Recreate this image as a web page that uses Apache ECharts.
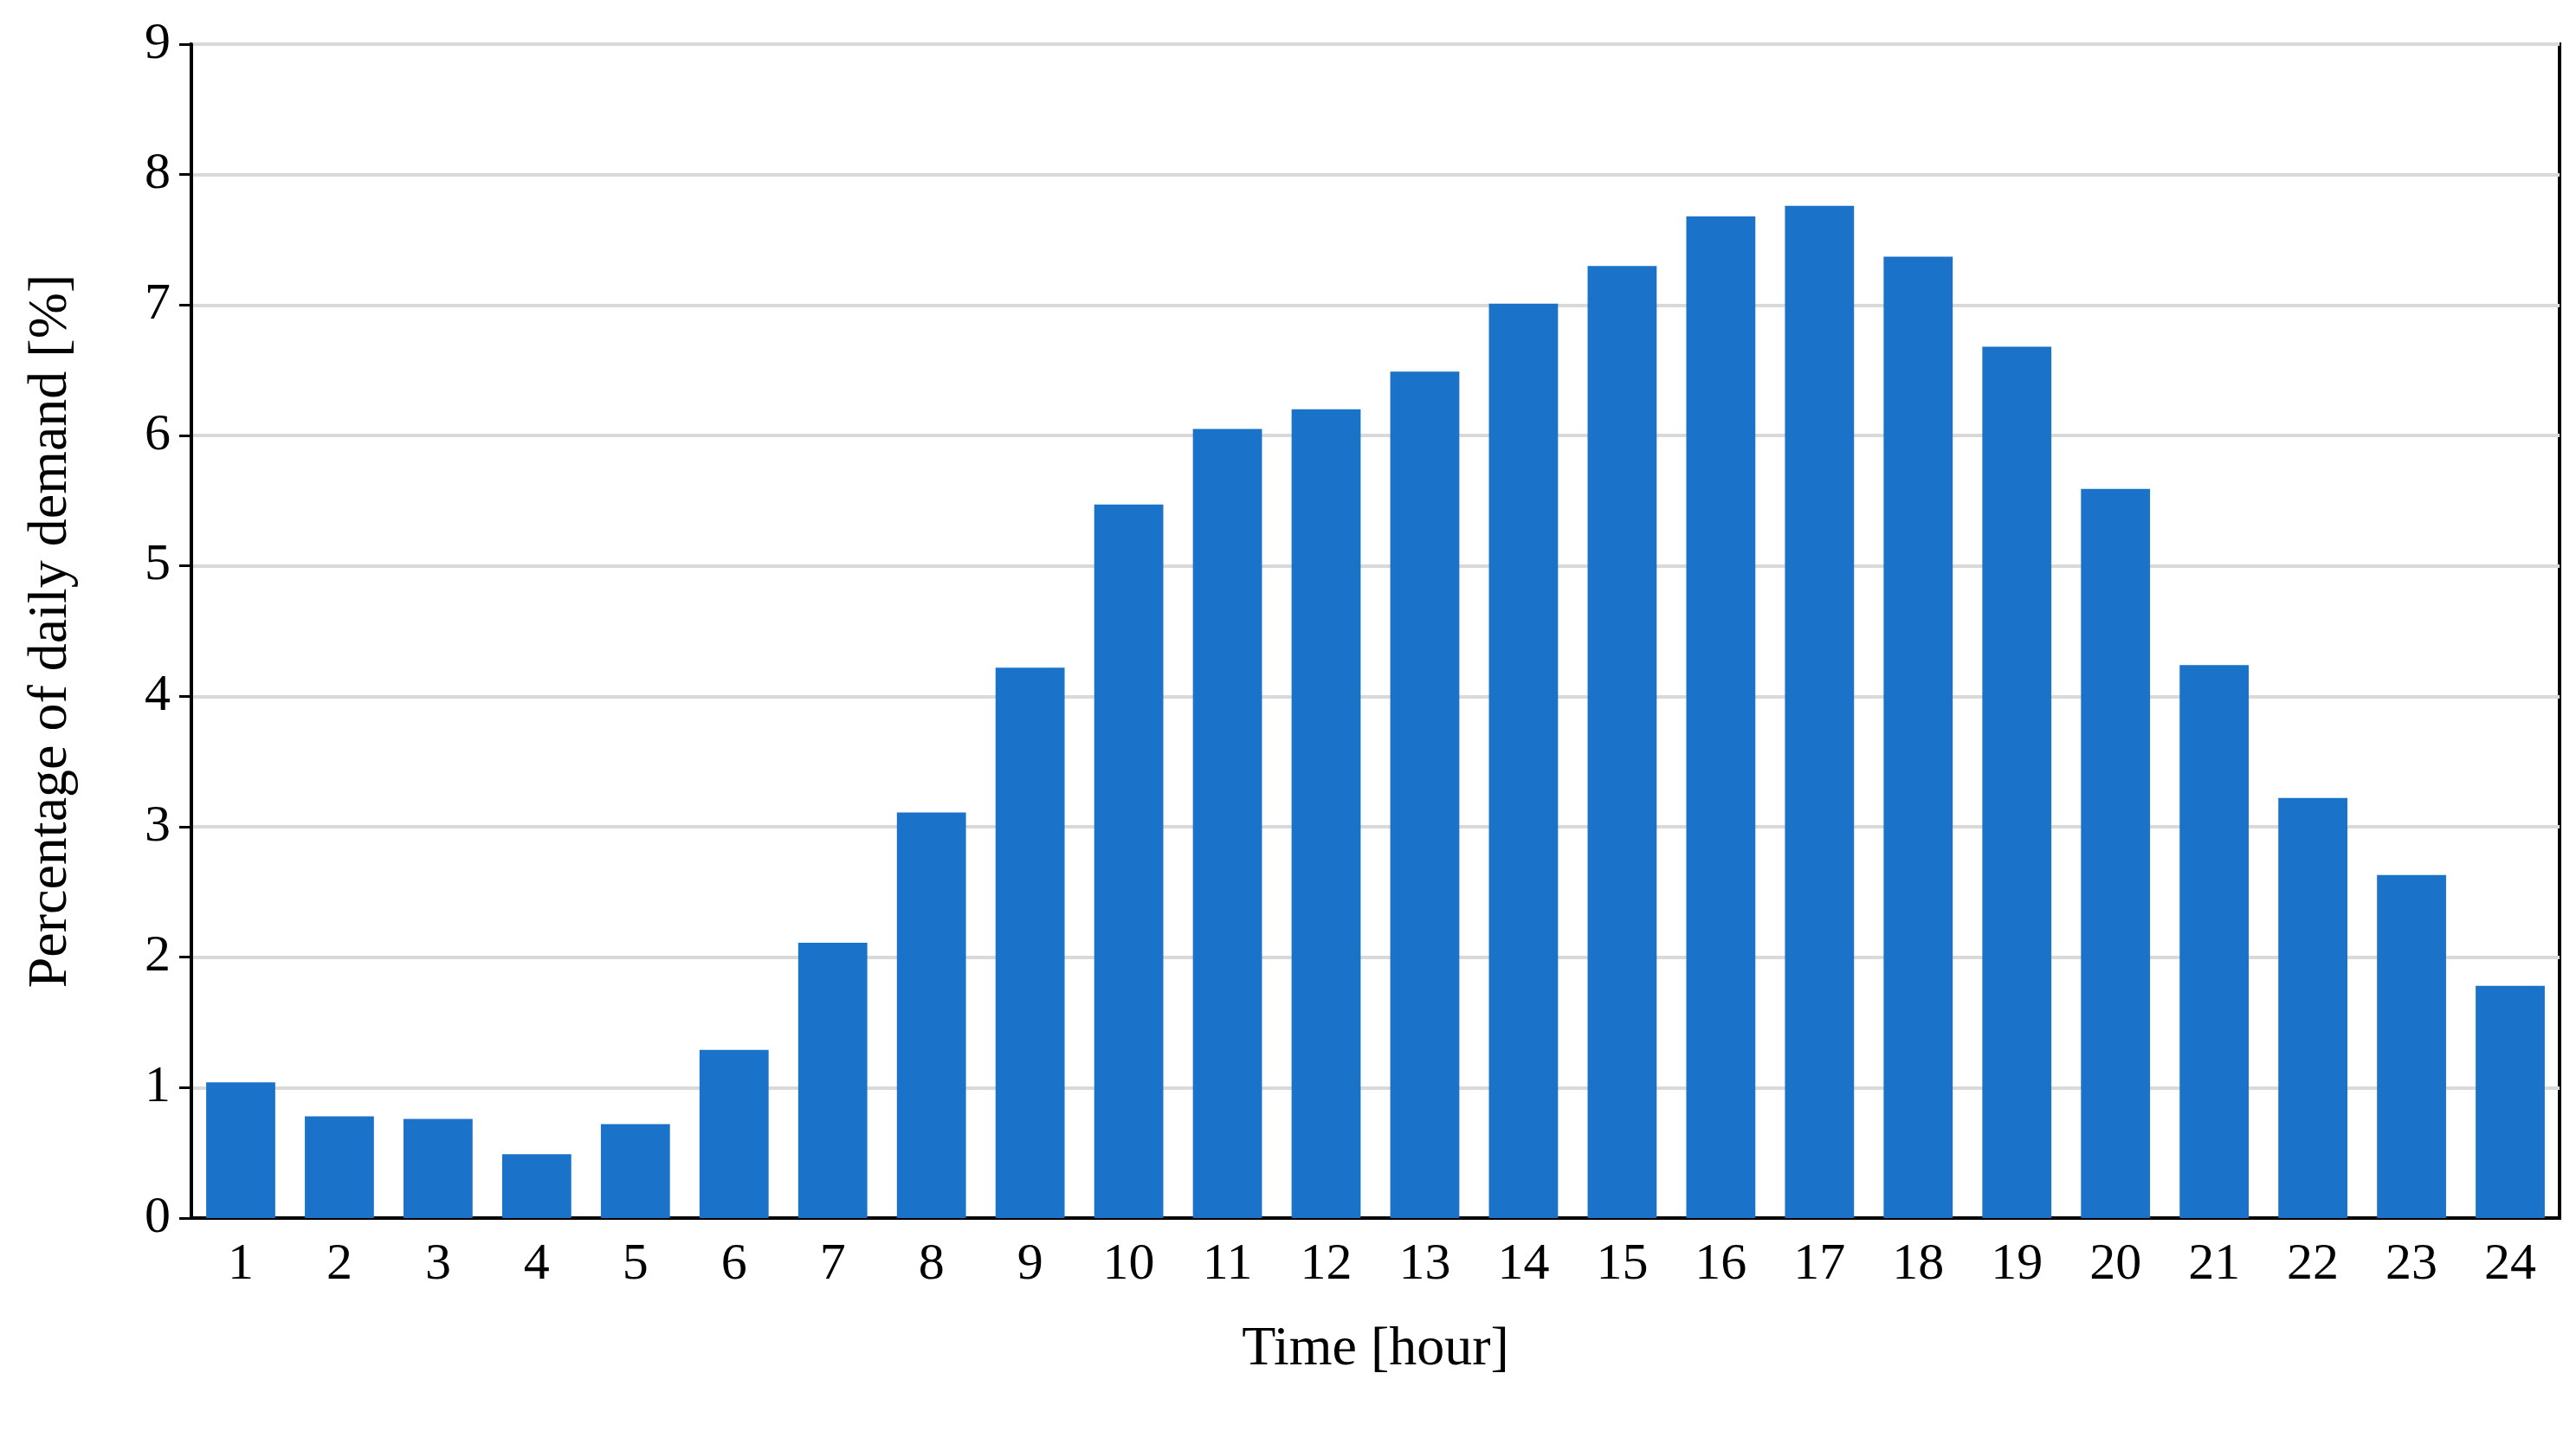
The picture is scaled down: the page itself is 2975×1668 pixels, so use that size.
<!DOCTYPE html>
<html><head><meta charset="utf-8">
<script src="https://cdn.jsdelivr.net/npm/echarts@6/dist/echarts.min.js"></script>
<style>html,body{margin:0;background:#fff}#c{width:2975px;height:1668px}</style>
</head><body><div id="c"></div>
<script>
const hours = ['1','2','3','4','5','6','7','8','9','10','11','12','13','14','15','16','17','18','19','20','21','22','23','24'];
const demand = [1.04,0.78,0.76,0.49,0.72,1.29,2.11,3.11,4.22,5.47,6.05,6.20,6.49,7.01,7.30,7.68,7.76,7.37,6.68,5.59,4.24,3.22,2.63,1.78];
const font = 'Liberation Serif';
const chart = echarts.init(document.getElementById('c'));
chart.setOption({
  animation:false,
  textStyle:{fontFamily:font},
  grid:{left:221,right:19,top:51,bottom:261,show:true,borderColor:'#000',borderWidth:4,backgroundColor:'transparent'},
  xAxis:{type:'category',data:hours,name:'Time [hour]',nameLocation:'middle',nameGap:120,
    nameTextStyle:{fontFamily:font,fontSize:64,color:'#000'},
    axisLine:{lineStyle:{color:'#000',width:4}},
    axisTick:{alignWithLabel:true,length:14,lineStyle:{color:'#000',width:3}},
    axisLabel:{fontFamily:font,fontSize:60,color:'#000',margin:24}},
  yAxis:{type:'value',min:0,max:9,interval:1,name:'Percentage of daily demand [%]',nameLocation:'middle',nameGap:130,
    nameTextStyle:{fontFamily:font,fontSize:64,color:'#000'},
    axisLine:{show:true,lineStyle:{color:'#000',width:4}},
    axisTick:{show:true,length:14,lineStyle:{color:'#000',width:3}},
    splitLine:{lineStyle:{color:'#d9d9d9',width:4}},
    axisLabel:{fontFamily:font,fontSize:60,color:'#000',margin:24}},
  series:[{type:'bar',data:demand,barCategoryGap:'30%',itemStyle:{color:'#1a73c8'}}]
});
</script></body></html>
